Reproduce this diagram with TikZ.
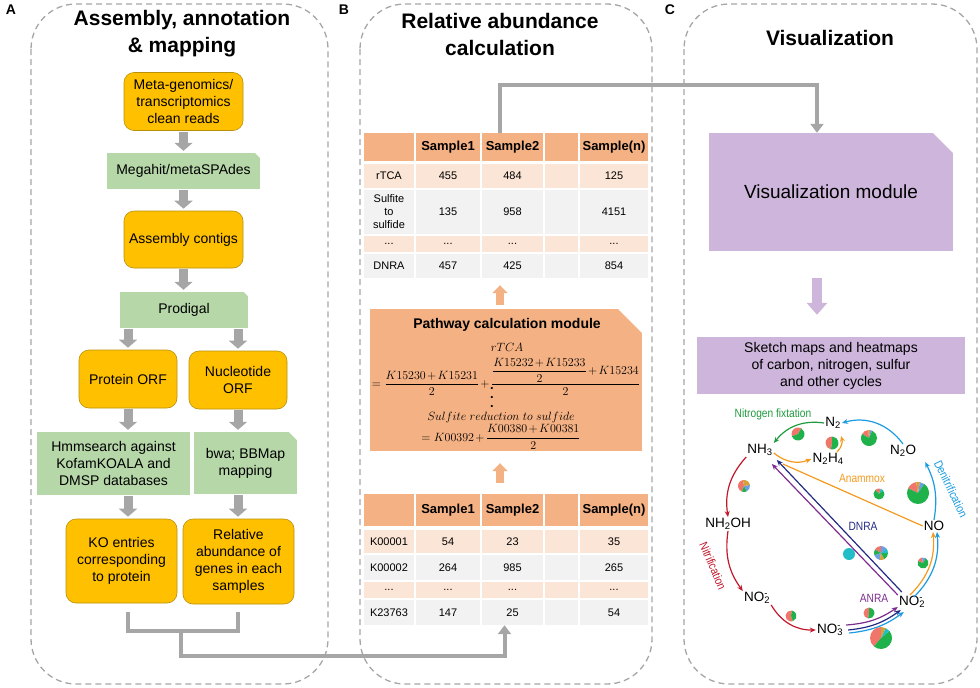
\documentclass[tikz,border=0pt]{standalone}
\usepackage{fontspec}
\setmainfont{Liberation Sans}
\newfontfamily\narrowfont[FakeStretch=0.85]{Liberation Sans}
\usepackage{amsmath}
\usetikzlibrary{arrows.meta, calc}

\definecolor{panelgray}{HTML}{A6A6A6}
\definecolor{arrowgray}{HTML}{A6A6A6}
\definecolor{boxgold}{HTML}{FFC000}
\definecolor{goldedge}{HTML}{B8900A}
\definecolor{boxgreen}{HTML}{B6D7A8}
\definecolor{salmon}{HTML}{F4B183}
\definecolor{rowpeach}{HTML}{FBE5D6}
\definecolor{rowgray}{HTML}{F2F2F2}
\definecolor{lilac}{HTML}{CDB5DB}
\definecolor{fixgreen}{HTML}{1F9A3E}
\definecolor{denblue}{HTML}{1B9BE0}
\definecolor{nitred}{HTML}{C1182B}
\definecolor{anaorange}{HTML}{F39A1E}
\definecolor{dnranavy}{HTML}{232B83}
\definecolor{anrapurple}{HTML}{7D2C8F}
\definecolor{pred}{HTML}{F0766C}
\definecolor{pgreen}{HTML}{20B24A}
\definecolor{pblue}{HTML}{6D9EE0}
\definecolor{porange}{HTML}{D5A13A}
\definecolor{pteal}{HTML}{22BEC8}

% one table row: name, y, height, cell style, five entries
\newcommand{\trow}[9]{%
  \node[#4, minimum width=50pt, minimum height=#3pt] (#1-1) at (389,#2) {#5};
  \node[#4, minimum width=64pt, minimum height=#3pt] (#1-2) at (448,#2) {#6};
  \node[#4, minimum width=61pt, minimum height=#3pt] (#1-3) at (512.5,#2) {#7};
  \node[#4, minimum width=33pt, minimum height=#3pt] (#1-4) at (561.5,#2) {#8};
  \node[#4, minimum width=68pt, minimum height=#3pt] (#1-5) at (614,#2) {#9};
}
% small pie: centre, radius, slices start/end/colour
\newcommand{\npie}[3]{%
  \begin{scope}[shift={(#1)}, yscale=-1]
    \foreach \a/\b/\c in {#3}
      \fill[\c] (0,0) -- (\a:#2) arc[start angle=\a, end angle=\b, radius=#2] -- cycle;
  \end{scope}}
\newcommand{\nion}[2]{#1\rlap{\textsuperscript{-}}\textsubscript{#2}}
\newcommand{\tightmath}{\medmuskip=2mu\relax}

\begin{document}
\begin{tikzpicture}[x=1pt, y=-1pt,
  panel/.style={draw=panelgray, line width=1.3pt, dash pattern=on 6pt off 4pt, rounded corners=45pt},
  letter/.style={font=\bfseries\fontsize{14}{16}\selectfont},
  ptitle/.style={font=\bfseries\fontsize{21}{27}\selectfont, align=center},
  goldbox/.style={fill=boxgold, draw=goldedge, line width=0.6pt, rounded corners=10pt, align=center, inner sep=0pt, font=\fontsize{14}{17}\selectfont},
  greenbox/.style={fill=boxgreen, align=center, inner sep=0pt, font=\fontsize{14}{17}\selectfont},
  snipped/.style={path picture={\fill[white] ([xshift=-#1]path picture bounding box.north east) -- (path picture bounding box.north east) -- ([yshift=-#1]path picture bounding box.north east) -- cycle;}},
  garrow/.style={draw=arrowgray, line width=9pt, -{Triangle[width=18pt, length=8pt]}, shorten <=1pt, shorten >=2pt},
  gline/.style={draw=arrowgray, line width=4pt},
  gconn/.style={gline, -{Triangle[width=13pt, length=9pt]}},
  oarrow/.style={draw=salmon, line width=8pt, -{Triangle[width=15pt, length=8pt]}},
  parrow/.style={draw=lilac, line width=10pt, -{Triangle[width=20pt, length=12pt]}},
  cell/.style={inner sep=0pt, align=center, font=\fontsize{11}{13}\selectfont},
  hcell/.style={cell, fill=salmon, font=\bfseries\fontsize{13}{15}\selectfont},
  pcell/.style={cell, fill=rowpeach},
  gcell/.style={cell, fill=rowgray},
  mathtxt/.style={inner sep=0pt, font=\fontsize{12}{14}\selectfont},
  ntext/.style={inner sep=1pt, font=\fontsize{13.5}{15}\selectfont},
  nlabel/.style={inner sep=0pt, font=\narrowfont\fontsize{12}{14}\selectfont},
  ncarrow/.style={line width=1.2pt, -{Stealth[length=6pt, width=5pt]}}]
\useasboundingbox (0,0) rectangle (980,688);

% panels
\draw[panel] (31,4) rectangle (328,684);
\draw[panel] (360,4) rectangle (652,684);
\draw[panel] (684,4) rectangle (977,684);
\node[letter] (labA) at (11,10) {A};
\node[letter] (labB) at (344,10) {B};
\node[letter] (labC) at (670,10) {C};
\node[ptitle] (tA) at (182,34) {Assembly, annotation\\\& mapping};
\node[ptitle] (tB) at (500,34) {Relative abundance\\calculation};
\node[ptitle] (tC) at (830,38) {Visualization};

% A: assembly and annotation
\node[goldbox, minimum width=119pt, minimum height=58pt] (reads) at (183.5,101.5) {Meta-genomics/\\transcriptomics\\clean reads};
\node[greenbox, snipped=5pt, minimum width=153pt, minimum height=36pt] (megahit) at (183.5,171) {Megahit/metaSPAdes};
\node[goldbox, minimum width=119pt, minimum height=57pt] (contigs) at (183.5,239.5) {Assembly contigs};
\node[greenbox, snipped=4pt, minimum width=128pt, minimum height=36pt] (prodigal) at (184,310) {Prodigal};
\node[goldbox, minimum width=98pt, minimum height=58pt] (protorf) at (128,379) {Protein ORF};
\node[goldbox, minimum width=98pt, minimum height=58pt] (nuclorf) at (238,380) {Nucleotide\\ORF};
\node[greenbox, minimum width=153pt, minimum height=63pt] (hmm) at (113.5,463.5) {Hmmsearch against\\KofamKOALA and\\DMSP databases};
\node[greenbox, snipped=8pt, minimum width=103pt, minimum height=62pt] (bwa) at (245.5,463) {bwa; BBMap\\mapping};
\node[goldbox, minimum width=111pt, minimum height=84pt] (ko) at (121.5,561) {KO entries\\corresponding\\to protein};
\node[goldbox, minimum width=111pt, minimum height=85pt] (relab) at (238.5,561.5) {Relative\\abundance of\\genes in each\\samples};

\draw[garrow] (reads.south) -- (megahit.north);
\draw[garrow] (megahit.south) -- (contigs.north);
\draw[garrow] (contigs.south) -- (contigs.south |- prodigal.north);
\draw[garrow] (protorf.north |- prodigal.south) -- (protorf.north);
\draw[garrow] (nuclorf.north |- prodigal.south) -- (nuclorf.north);
\draw[garrow] (protorf.south) -- (protorf.south |- hmm.north);
\draw[garrow] (nuclorf.south) -- (nuclorf.south |- bwa.north);
\draw[garrow] (protorf.south |- hmm.south) -- (protorf.south |- ko.north);
\draw[garrow] (nuclorf.south |- bwa.south) -- (nuclorf.south |- relab.north);

\coordinate (brk) at (181,631);
\draw[gline] ($(protorf.south |- ko.south)+(0,9)$) |- (brk) -| ($(nuclorf.south |- relab.south)+(0,8)$);

% B: abundance tables and pathway module
\trow{ta1}{147}{28}{hcell}{}{Sample1}{Sample2}{}{Sample(n)}
\trow{ta2}{176}{24}{pcell}{rTCA}{455}{484}{}{125}
\trow{ta3}{212}{44}{gcell}{Sulfite\\to\\sulfide}{135}{958}{}{4151}
\trow{ta4}{244}{16}{pcell}{...}{...}{...}{}{...}
\trow{ta5}{266}{24}{gcell}{DNRA}{457}{425}{}{854}

\node[fill=salmon, snipped=24pt, minimum width=272pt, minimum height=142pt] (pw) at (506,380) {};
\node[font=\bfseries\fontsize{14}{17}\selectfont] (pwt) at (507,325) {Pathway calculation module};
\node[mathtxt] (rtca) at (507,347) {$rTCA$};
\node[mathtxt] (feqa) at (506,377) {$\tightmath=\dfrac{K15230+K15231}{2}+\dfrac{\dfrac{K15232+K15233}{2}+K15234}{2}$};
\node[inner sep=0pt, align=center, font=\bfseries\fontsize{13}{9}\selectfont] (vdots) at (492,398) {.\\.\\.};
\node[mathtxt] (sulf) at (501,417) {$Sulfite\ reduction\ to\ sulfide$};
\node[mathtxt] (feqb) at (501,437) {$\tightmath=K00392+\dfrac{K00380+K00381}{2}$};

\trow{tb1}{510}{32}{hcell}{}{Sample1}{Sample2}{}{Sample(n)}
\trow{tb2}{541.5}{23}{pcell}{K00001}{54}{23}{}{35}
\trow{tb3}{567.5}{25}{gcell}{K00002}{264}{985}{}{265}
\trow{tb4}{590}{16}{pcell}{...}{...}{...}{}{...}
\trow{tb5}{612.5}{25}{gcell}{K23763}{147}{25}{}{54}

\draw[oarrow] (pw.north -| tB.south) ++(0,-4) -- ($(ta5-3.south -| tB.south)+(0,7)$);
\draw[oarrow] ($(tb1-3.north -| tB.south)+(0,-11)$) -- ($(pw.south -| tB.south)+(0,12)$);
\draw[gconn] (brk) -- ++(0,25) -| ($(tb5-3.south)+(-8,0)$);

% C: visualization
\node[fill=lilac, snipped=20pt, minimum width=244pt, minimum height=118pt, font=\fontsize{19}{22}\selectfont] (vis) at (831,192) {Visualization module};
\node[fill=lilac, minimum width=268pt, minimum height=57pt, align=center, font=\fontsize{14}{17}\selectfont] (sketch) at (831,365.5) {Sketch maps and heatmaps\\of carbon, nitrogen, sulfur\\and other cycles};
\draw[gconn] (ta1-3.north -| tB.south) -- ++(0,-48) -| ($(vis.north)+(-14,0)$);
\draw[parrow] ($(vis.south)+(-14,27)$) -- ($(sketch.north)+(-14,-22)$);

% nitrogen cycle
\node[ntext] (n2) at (833,423) {N\textsubscript{2}};
\node[ntext] (nh3) at (760,450) {NH\textsubscript{3}};
\node[ntext] (n2h4) at (828,459) {N\textsubscript{2}H\textsubscript{4}};
\node[ntext] (n2o) at (903,451) {N\textsubscript{2}O};
\node[ntext] (no) at (934,526) {NO};
\node[ntext] (nh2oh) at (728,524) {NH\textsubscript{2}OH};
\node[ntext] (no2a) at (757,598) {\nion{NO}{2}};
\node[ntext] (no3) at (830,630) {\nion{NO}{3}};
\node[ntext] (no2b) at (912,602) {\nion{NO}{2}};

\node[nlabel, fixgreen] (lfix) at (773,414) {Nitrogen fixtation};
\node[nlabel, anaorange] (lana) at (862,478) {Anammox};
\node[nlabel, dnranavy] (ldnra) at (863,526) {DNRA};
\node[nlabel, denblue, rotate=-64] (lden) at (951,489) {Denitrification};
\node[nlabel, nitred, rotate=-67] (lnit) at (713,566) {Nitrification};
\node[nlabel, anrapurple] (lanra) at (874,598) {ANRA};

\draw[ncarrow, fixgreen] (n2.west) to[bend right=30] (nh3.north east);
\draw[ncarrow, denblue] (n2o.north) to[bend right=35] (n2.east);
\draw[ncarrow, denblue] (no.north) to[bend right=18] ($(n2o.south east)+(8,4)$);
\draw[ncarrow, nitred] (nh3.south west) to[bend right=25] (nh2oh.north);
\draw[ncarrow, nitred] (nh2oh.south) to[bend right=22] (no2a.north west);
\draw[ncarrow, nitred] (no2a.south east) to[bend right=30] (no3.west);
\draw[ncarrow, anrapurple] ($(no3.east)+(2,-5)$) to[bend right=15] ($(no2b.south west)+(0,-2)$);
\draw[ncarrow, dnranavy] ($(no3.east)+(4,0)$) to[bend right=15] ($(no2b.south west)+(3,1)$);
\draw[ncarrow, denblue] ($(no3.east)+(5,3)$) to[bend right=15] ($(no2b.south west)+(6,3)$);
\draw[ncarrow, anaorange] ($(no2b.north)+(-2,0)$) to[bend right=25] ($(no.south)+(-1,0)$);
\draw[ncarrow, denblue] ($(no2b.north)+(2,2)$) to[bend right=25] ($(no.south)+(3,0)$);
\draw[ncarrow, anaorange] ($(nh3.east)+(0,3)$) to[bend right=30] (n2h4.west);
\draw[ncarrow, anaorange] ($(n2h4.north)+(9,0)$) to[bend right=30] ($(n2.south)+(8,6)$);
\draw[line width=1.2pt, anaorange] (no.west) -- ($(nh3.south east)+(9,7)$);
\draw[ncarrow, dnranavy] ($(no2b.north west)+(4,-3)$) -- ($(nh3.south east)+(3,3)$);
\draw[ncarrow, anrapurple] ($(no2b.north west)+(0,0)$) -- ($(nh3.south east)+(-2,7)$);

\npie{798,434}{6.5}{60/200/pred, 200/420/pgreen}
\npie{832,443}{6.5}{90/260/pred, 260/450/pgreen}
\npie{869,438}{8}{95/150/pred, 80/95/porange, 65/80/pblue, 150/425/pgreen}
\npie{744,486}{6}{100/250/pred, 250/300/pgreen, 300/370/pblue, 370/460/porange}
\npie{879,494}{5.5}{70/130/pred, 40/70/pteal, 130/400/pgreen}
\npie{918,493}{11}{100/155/pred, 80/100/porange, 55/80/pblue, 155/415/pgreen}
\npie{849,554}{6}{0/360/pteal}
\npie{881,553}{7}{90/150/pred, 150/200/pgreen, 200/260/pblue, 260/300/porange, 300/360/pgreen, 0/40/pteal, 40/90/pblue}
\npie{923,563}{5.5}{100/160/pred, 60/100/pblue, 160/420/pgreen}
\npie{791,616}{5.5}{80/290/pred, 290/440/pgreen}
\npie{869,613}{5.5}{90/260/pred, 260/450/pgreen}
\npie{881,638}{11}{90/230/pred, 230/400/pgreen, 40/65/pteal, 65/90/porange}
\end{tikzpicture}
\end{document}
